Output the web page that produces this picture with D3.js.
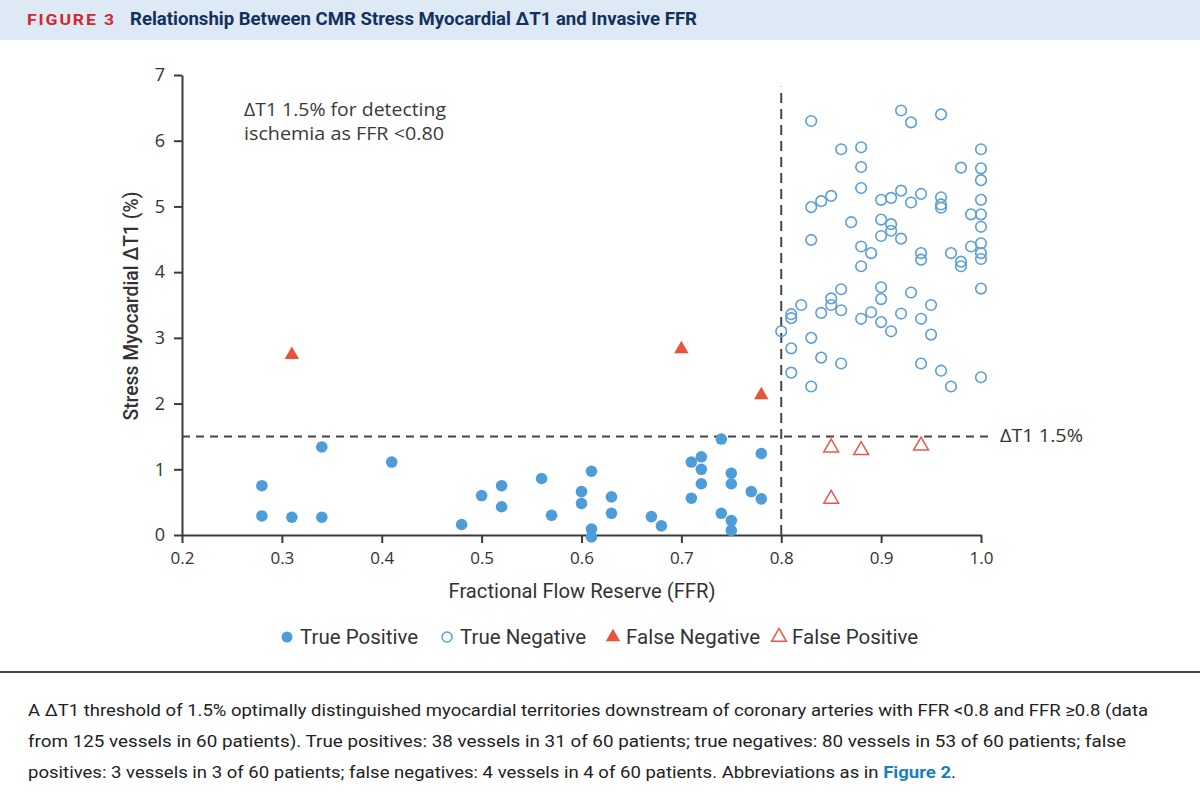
<!DOCTYPE html>
<html>
<head>
<meta charset="utf-8">
<script src="https://cdn.jsdelivr.net/npm/d3@7"></script>
<style>
  html, body { margin: 0; padding: 0; background: #fff; }
  svg { display: block; }
</style>
</head>
<body>
<svg id="chart" width="1200" height="800"></svg>
<script>
// ---------------- DATA ----------------
const xTicks = [0.2, 0.3, 0.4, 0.5, 0.6, 0.7, 0.8, 0.9, 1.0];
const yTicks = [0, 1, 2, 3, 4, 5, 6, 7];
const threshold = 1.5;
const ffrCut = 0.8;

const truePositive = [
  [0.28,0.75],[0.28,0.29],[0.31,0.27],[0.34,0.27],[0.34,1.34],[0.41,1.11],
  [0.48,0.16],[0.50,0.60],[0.52,0.75],[0.52,0.43],[0.56,0.86],[0.57,0.30],
  [0.60,0.66],[0.60,0.48],[0.61,0.97],[0.61,0.09],[0.61,-0.03],[0.63,0.58],[0.63,0.33],
  [0.67,0.28],[0.68,0.14],[0.71,1.11],[0.71,0.56],[0.72,1.19],[0.72,1.00],
  [0.72,0.78],[0.74,1.46],[0.74,0.33],[0.75,0.94],[0.75,0.78],[0.75,0.22],
  [0.75,0.07],[0.77,0.66],[0.78,1.24],[0.78,0.55]
];
const trueNegative = [
  [0.83,6.30],[0.92,6.46],[0.93,6.28],[0.96,6.40],
  [0.86,5.87],[0.88,5.90],[1.00,5.87],
  [0.88,5.60],[0.98,5.59],[1.00,5.58],[1.00,5.40],[0.88,5.28],
  [0.83,4.99],[0.84,5.08],[0.85,5.16],[0.90,5.10],[0.91,5.13],[0.92,5.24],
  [0.93,5.06],[0.94,5.19],[0.96,5.14],[0.96,5.03],[0.96,4.98],[1.00,5.10],
  [0.87,4.76],[0.90,4.80],[0.91,4.73],[0.91,4.63],[0.90,4.55],[0.92,4.51],
  [0.99,4.88],[1.00,4.88],[1.00,4.69],
  [0.83,4.49],[0.88,4.39],[0.89,4.29],[1.00,4.44],[0.99,4.39],[1.00,4.29],
  [0.94,4.29],[0.97,4.29],
  [0.94,4.19],[0.98,4.16],[0.98,4.09],[1.00,4.20],[0.88,4.09],
  [0.86,3.74],[0.90,3.77],[0.90,3.59],[0.93,3.69],[1.00,3.75],[0.85,3.60],
  [0.85,3.50],[0.82,3.50],[0.95,3.50],
  [0.81,3.36],[0.81,3.30],[0.84,3.38],[0.86,3.42],[0.89,3.39],[0.88,3.29],
  [0.90,3.24],[0.92,3.37],[0.94,3.29],[0.91,3.10],[0.95,3.05],
  [0.80,3.10],[0.83,3.00],[0.81,2.84],[0.84,2.70],[0.86,2.61],[0.94,2.61],
  [0.96,2.50],[0.81,2.47],[1.00,2.40],[0.83,2.26],[0.97,2.26]
];
const falseNegative = [[0.31,2.74],[0.70,2.83],[0.78,2.13]];
const falsePositive = [[0.85,1.33],[0.88,1.29],[0.94,1.36],[0.85,0.55]];

const legendLabels = ["True Positive", "True Negative", "False Negative", "False Positive"];

const figLabel = "FIGURE 3";
const figTitle = "Relationship Between CMR Stress Myocardial \u0394T1 and Invasive FFR";
const annotLines = ["\u0394T1 1.5% for detecting", "ischemia as FFR <0.80"];
const thresholdLabel = "\u0394T1 1.5%";
const xLabel = "Fractional Flow Reserve (FFR)";
const yLabel = "Stress Myocardial \u0394T1 (%)";
const captionLines = [
  ["A \u0394T1 threshold of 1.5% optimally distinguished myocardial territories downstream of coronary arteries with FFR <0.8 and FFR \u22650.8 (data"],
  ["from 125 vessels in 60 patients). True positives: 38 vessels in 31 of 60 patients; true negatives: 80 vessels in 53 of 60 patients; false"],
  ["positives: 3 vessels in 3 of 60 patients; false negatives: 4 vessels in 4 of 60 patients. Abbreviations as in ", "Figure 2", "."]
];

// ---------------- DRAW ----------------
const svg = d3.select("#chart");
const BLUE = "#4e9ddb";
const BLUE_OPEN = "#5b9fd8";
const RED = "#e8533c";
const RED_OPEN = "#e8574c";
const AX = "#3a3a3a";
const FONT = "'Open Sans', 'Noto Sans', sans-serif";
const NARROW = "'Liberation Sans Narrow', 'Roboto', sans-serif";

// header
svg.append("rect").attr("x",0).attr("y",0).attr("width",1200).attr("height",40).attr("fill","#dde9f5");
svg.append("text").attr("x",27).attr("y",25).text(figLabel)
  .attr("font-family","'Roboto', sans-serif").attr("font-weight",700).attr("font-size",15)
  .attr("letter-spacing",1.6).attr("fill","#d32630")
  .attr("textLength",89).attr("lengthAdjust","spacingAndGlyphs");
svg.append("text").attr("x",130).attr("y",25).text(figTitle)
  .attr("font-family",NARROW).attr("font-weight",700).attr("font-size",18.5)
  .attr("fill","#14305c")
  .attr("textLength",567).attr("lengthAdjust","spacingAndGlyphs");

const x = d3.scaleLinear().domain([0.2, 1.0]).range([182, 981]);
const y = d3.scaleLinear().domain([0, 7]).range([535, 75]);

// axes
const xAxis = d3.axisBottom(x).tickValues(xTicks).tickFormat(d3.format(".1f")).tickSize(8).tickSizeOuter(0);
const gx = svg.append("g").attr("transform", `translate(0,${y(0)})`).call(xAxis);
gx.select(".domain").attr("stroke",AX).attr("stroke-width",2);
gx.selectAll(".tick line").attr("stroke",AX).attr("stroke-width",2);
gx.selectAll(".tick text").attr("font-family",FONT).attr("font-size",17).attr("fill","#333").attr("dy","1.05em");

const yAxis = d3.axisLeft(y).tickValues(yTicks).tickFormat(d3.format("d")).tickSize(8).tickSizeOuter(0);
const gy = svg.append("g").attr("transform", `translate(${x(0.2)},0)`).call(yAxis);
gy.select(".domain").attr("stroke",AX).attr("stroke-width",2);
gy.selectAll(".tick line").attr("stroke",AX).attr("stroke-width",2);
gy.selectAll(".tick text").attr("font-family",FONT).attr("font-size",18).attr("fill","#333").attr("x",-17);

// axis labels
svg.append("text").attr("x",582).attr("y",598).attr("text-anchor","middle").text(xLabel)
  .attr("font-family",NARROW).attr("font-weight",400).attr("font-size",19.5).attr("fill","#333")
  .attr("textLength",267).attr("lengthAdjust","spacingAndGlyphs");
svg.append("text").attr("transform","translate(138,306) rotate(-90)").attr("text-anchor","middle").text(yLabel)
  .attr("font-family",NARROW).attr("font-weight",500).attr("font-size",19.5).attr("fill","#333")
  .attr("textLength",229).attr("lengthAdjust","spacingAndGlyphs");

// dashed reference lines
svg.append("line").attr("x1",x(0.2)).attr("x2",x(1.01)).attr("y1",y(threshold)).attr("y2",y(threshold))
  .attr("stroke","#444").attr("stroke-width",2).attr("stroke-dasharray","8,6");
svg.append("line").attr("x1",x(ffrCut)).attr("x2",x(ffrCut)).attr("y1",y(0)).attr("y2",y(6.82))
  .attr("stroke","#444").attr("stroke-width",2).attr("stroke-dasharray","10,6");
svg.append("text").attr("x",1000).attr("y",y(threshold)+6).text(thresholdLabel)
  .attr("font-family",FONT).attr("font-size",18).attr("fill","#333")
  .attr("textLength",83).attr("lengthAdjust","spacingAndGlyphs");

// annotation
annotLines.forEach((t,i) => {
  svg.append("text").attr("x",244).attr("y",116 + i*24).text(t)
    .attr("font-family",FONT).attr("font-size",18).attr("fill","#3a3a3a")
    .attr("textLength", i===0 ? 202 : 200).attr("lengthAdjust","spacingAndGlyphs");
});

// marks
const tri = d3.symbol().type(d3.symbolTriangle).size(90);
const triOpen = d3.symbol().type(d3.symbolTriangle).size(95);

svg.append("g").selectAll("circle").data(trueNegative).join("circle")
  .attr("cx",d=>x(d[0])).attr("cy",d=>y(d[1])).attr("r",5.3)
  .attr("fill","none").attr("stroke",BLUE_OPEN).attr("stroke-width",1.6);
svg.append("g").selectAll("circle").data(truePositive).join("circle")
  .attr("cx",d=>x(d[0])).attr("cy",d=>y(d[1])).attr("r",5.8)
  .attr("fill",BLUE);
svg.append("g").selectAll("path").data(falseNegative).join("path")
  .attr("d",tri).attr("transform",d=>`translate(${x(d[0])},${y(d[1])})`)
  .attr("fill",RED);
svg.append("g").selectAll("path").data(falsePositive).join("path")
  .attr("d",triOpen).attr("transform",d=>`translate(${x(d[0])},${y(d[1])})`)
  .attr("fill","none").attr("stroke",RED_OPEN).attr("stroke-width",1.5);

// legend
const legendX = [287, 447, 613, 779];
const lg = svg.append("g");
legendLabels.forEach((lab,i) => {
  const cx = legendX[i], cy = 637;
  if (i===0) lg.append("circle").attr("cx",cx).attr("cy",cy).attr("r",5.5).attr("fill",BLUE);
  if (i===1) lg.append("circle").attr("cx",cx).attr("cy",cy).attr("r",5).attr("fill","none").attr("stroke",BLUE_OPEN).attr("stroke-width",1.5);
  if (i===2) lg.append("path").attr("d",tri).attr("transform",`translate(${cx},${cy})`).attr("fill",RED);
  if (i===3) lg.append("path").attr("d",triOpen).attr("transform",`translate(${cx},${cy})`).attr("fill","none").attr("stroke",RED_OPEN).attr("stroke-width",1.5);
  lg.append("text").attr("x",cx+13).attr("y",cy+7).text(lab)
    .attr("font-family",NARROW).attr("font-size",20.5).attr("fill","#333");
});

// divider
svg.append("line").attr("x1",0).attr("x2",1200).attr("y1",672).attr("y2",672).attr("stroke","#444").attr("stroke-width",2);

// caption
const capWidths = [1120, 1098, 928];
captionLines.forEach((parts,i) => {
  const t = svg.append("text").attr("x",28).attr("y",716 + i*31)
    .attr("font-family",NARROW).attr("font-size",17).attr("fill","#222")
    .attr("textLength",capWidths[i]).attr("lengthAdjust","spacingAndGlyphs");
  parts.forEach((p,j) => {
    t.append("tspan").text(p).attr("fill", (i===2 && j===1) ? "#1a7fbf" : "#222")
      .attr("font-weight", (i===2 && j===1) ? 700 : 400);
  });
});
</script>
</body>
</html>
